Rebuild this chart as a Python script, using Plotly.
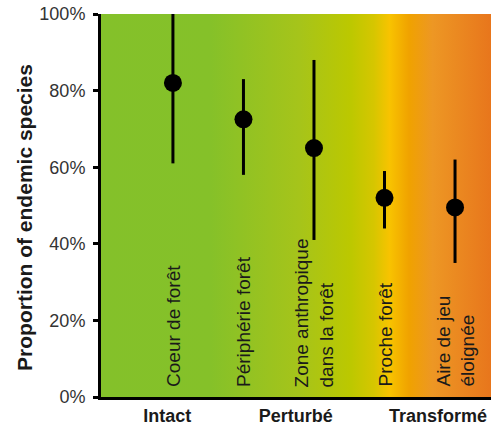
import plotly.graph_objects as go

categories = ["Coeur de forêt", "Périphérie forêt", "Zone anthropique<br>dans la forêt",
              "Proche forêt", "Aire de jeu<br>éloignée"]
x_pos = [0, 1, 2, 3, 4]
values = [82, 72.5, 65, 52, 49.5]
upper = [100, 83, 88, 59, 62]
lower = [61, 58, 41, 44, 35]

group_labels = ["Intact", "Perturbé", "Transformé"]
group_pos = [-0.08, 1.74, 3.76]

y_ticks = [0, 20, 40, 60, 80, 100]
y_tick_labels = ["0%", "20%", "40%", "60%", "80%", "100%"]
y_title = "Proportion of endemic species"

x_range = [-1.02, 4.51]
gradient = [
    [0.0, "#84c12a"], [0.28, "#85c129"], [0.51, "#a6c41a"], [0.64, "#bcc800"],
    [0.70, "#d6c600"], [0.74, "#f8c300"], [0.79, "#f0a200"], [0.85, "#ed9724"],
    [1.0, "#e8761c"],
]

font = "Liberation Sans, Arial, Helvetica, sans-serif"

fig = go.Figure()
fig.add_trace(go.Scatter(
    x=[x_range[0], x_range[1], x_range[1], x_range[0], x_range[0]],
    y=[0, 0, 100, 100, 0],
    fill="toself", mode="none",
    fillgradient=dict(type="horizontal", colorscale=gradient),
    hoverinfo="skip", showlegend=False,
))
fig.add_trace(go.Scatter(
    x=x_pos, y=values, mode="markers",
    marker=dict(size=18, color="black"),
    error_y=dict(type="data", symmetric=False,
                 array=[u - v for u, v in zip(upper, values)],
                 arrayminus=[v - l for v, l in zip(values, lower)],
                 thickness=3, width=0, color="black"),
    showlegend=False,
))

for xp, lab in zip(x_pos, categories):
    fig.add_annotation(x=xp, y=0, xref="x", yref="y", text=lab, textangle=-90,
                       showarrow=False, xanchor="center", yanchor="bottom", align="left",
                       yshift=8, font=dict(family=font, size=19, color="#1a1a1a"))

fig.add_annotation(x=-0.195, y=0.47, xref="paper", yref="paper", text=y_title,
                   textangle=-90, showarrow=False, xanchor="center", yanchor="middle",
                   font=dict(family=font, size=21, color="#1a1a1a", weight="bold"))

fig.update_layout(
    width=498, height=425,
    margin=dict(l=101, r=7, t=14, b=28, autoexpand=False),
    plot_bgcolor="white", paper_bgcolor="white",
    font=dict(family=font, color="#333333"),
    xaxis=dict(range=x_range, showgrid=False, zeroline=False, automargin=False,
               showline=True, linecolor="black", linewidth=3,
               tickvals=group_pos, ticktext=group_labels, ticks="",
               tickfont=dict(family=font, size=18, color="#1a1a1a", weight="bold")),
    yaxis=dict(range=[0, 100], showgrid=False, zeroline=False, automargin=False,
               showline=True, linecolor="black", linewidth=3,
               tickvals=y_ticks, ticktext=y_tick_labels, ticks="outside", ticklen=5,
               tickwidth=3, tickcolor="black", ticklabelstandoff=4,
               tickfont=dict(family=font, size=18, color="#333333")),
)

fig.write_html("out.html", config={"displayModeBar": False},
               post_script="document.body.style.margin='0';document.body.style.overflow='hidden';")
